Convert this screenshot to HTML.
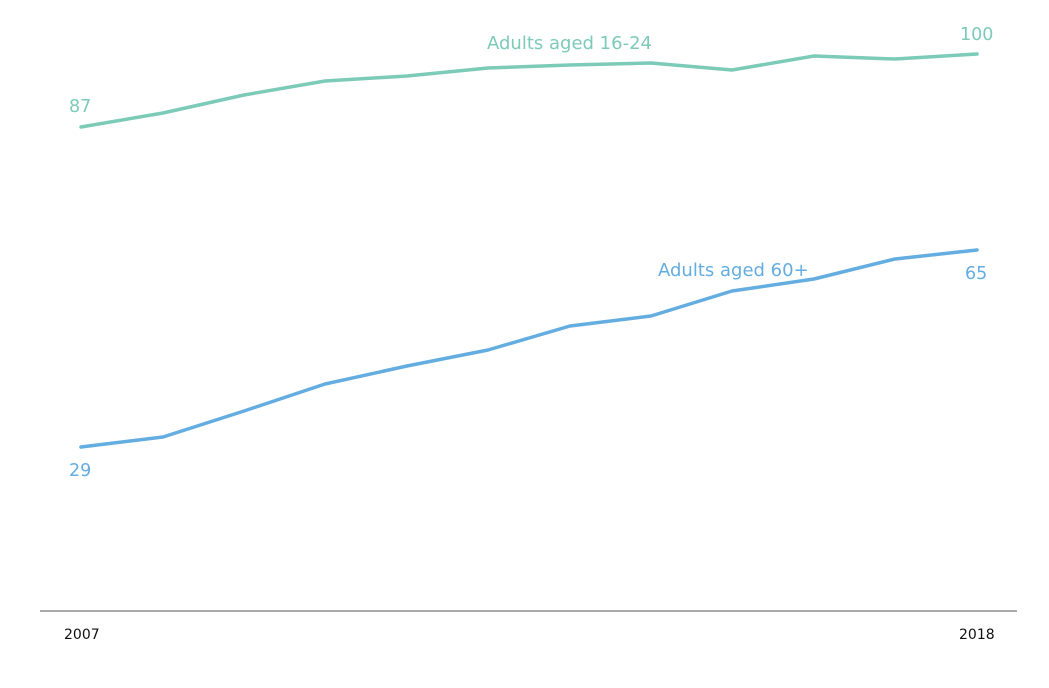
<!DOCTYPE html>
<html><head><style>body{margin:0;background:#fff}svg text{font-family:"DejaVu Sans","Liberation Sans",sans-serif}</style></head>
<body>
<svg width="1049" height="683" xmlns="http://www.w3.org/2000/svg">
<rect width="1049" height="683" fill="#fff"/>
<polyline fill="none" stroke="#7ccab8" stroke-width="3.5" stroke-linejoin="round" stroke-linecap="round" points="81,127 163,113 244,95 325,81 407,76 488,68 570,65 651,63 732,70 814,56 895,59 977,54"/>
<polyline fill="none" stroke="#64ade0" stroke-width="3.5" stroke-linejoin="round" stroke-linecap="round" points="81,447 163,437 244,411 325,384 407,366 488,350 570,326 651,316 732,291 814,279 895,259 977,250"/>
<line x1="40" y1="611" x2="1017" y2="611" stroke="#777" stroke-width="1.3"/>
<g font-size="17.5" fill="#7ccab8">
<text x="69" y="112">87</text>
<text x="960" y="40">100</text>
<text x="487" y="49" font-size="18">Adults aged 16-24</text>
</g>
<g font-size="17.5" fill="#64ade0">
<text x="69" y="476">29</text>
<text x="965" y="279">65</text>
<text x="658" y="276" font-size="18">Adults aged 60+</text>
</g>
<g font-size="14" fill="#111">
<text x="64" y="639">2007</text>
<text x="959" y="639">2018</text>
</g>
</svg>
</body></html>
